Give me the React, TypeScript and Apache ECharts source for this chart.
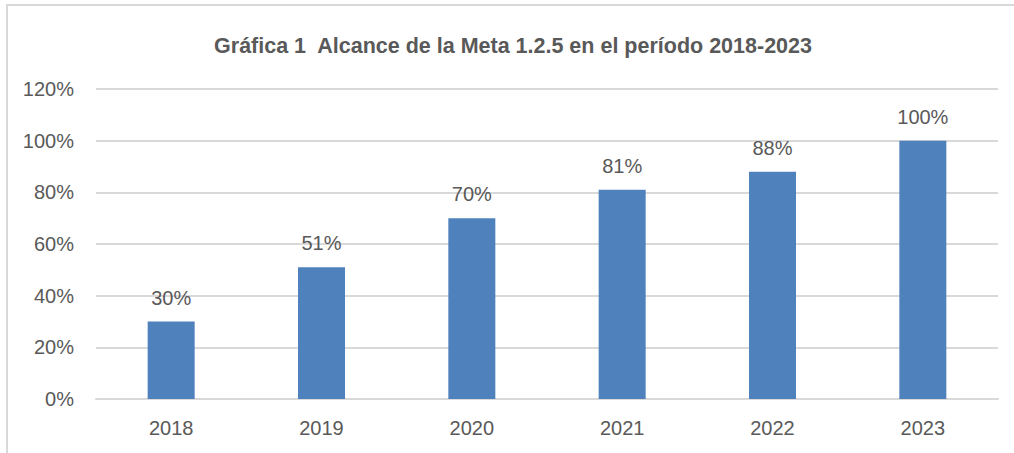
import React, { useEffect, useRef } from "react";
import * as echarts from "echarts";

const titleText = "Gráfica 1  Alcance de la Meta 1.2.5 en el período 2018-2023";
const years = ["2018", "2019", "2020", "2021", "2022", "2023"];
const values = [30, 51, 70, 81, 88, 100];
const yMin = 0;
const yMax = 120;
const yStep = 20;

const FONT = "'Liberation Sans Narrow', 'Arial Narrow', 'Liberation Sans', Arial, sans-serif";
const TEXT = "#595959";
const GRID = "#d9d9d9";
const BAR = "#4f81bd";

export default function App() {
  const ref = useRef<HTMLDivElement>(null);
  useEffect(() => {
    if (!ref.current) return;
    const chart = echarts.init(ref.current, null, { renderer: "svg" });
    chart.setOption({
      animation: false,
      backgroundColor: "#ffffff",
      title: {
        text: titleText,
        left: 508,
        top: 30,
        textAlign: "center",
        textStyle: { fontFamily: FONT, fontWeight: "bold", fontSize: 21.5, color: TEXT },
      },
      graphic: [
        {
          type: "rect",
          shape: { x: 7, y: 5, width: 1200, height: 600 },
          style: { fill: "none", stroke: GRID, lineWidth: 2 },
          silent: true,
        },
      ],
      grid: { left: 96, right: 16, top: 89, bottom: 54, containLabel: false },
      xAxis: {
        type: "category",
        data: years,
        axisLine: { show: true, lineStyle: { color: GRID, width: 2 } },
        axisTick: { show: false },
        axisLabel: { color: TEXT, fontFamily: FONT, fontSize: 20, margin: 19 },
      },
      yAxis: {
        type: "value",
        min: yMin,
        max: yMax,
        interval: yStep,
        axisLine: { show: false },
        axisTick: { show: false },
        splitLine: { lineStyle: { color: GRID, width: 2 } },
        axisLabel: { color: TEXT, fontFamily: FONT, fontSize: 20, margin: 22, formatter: "{value}%" },
      },
      series: [
        {
          type: "bar",
          data: values,
          barWidth: 47,
          itemStyle: { color: BAR },
          label: {
            show: true,
            position: "top",
            distance: 14,
            formatter: "{c}%",
            color: TEXT,
            fontFamily: FONT,
            fontSize: 20,
          },
        },
      ],
    });
    return () => chart.dispose();
  }, []);
  return (
    <div
      ref={ref}
      style={{ position: "fixed", left: 0, top: 0, width: 1014, height: 453 }}
    />
  );
}
